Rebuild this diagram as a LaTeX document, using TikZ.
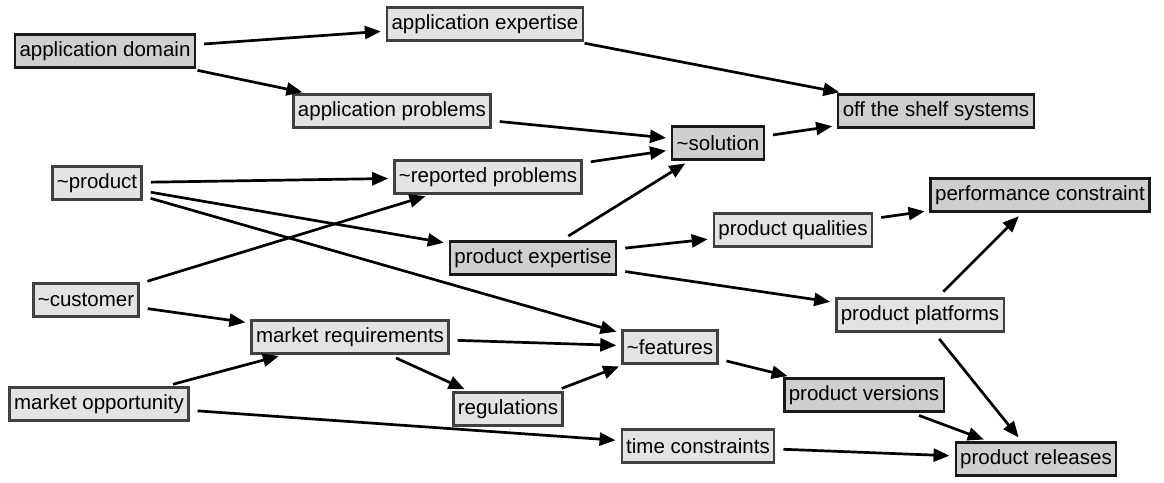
\documentclass[tikz,border=0pt]{standalone}
\usepackage{fontspec}
\setmainfont{Liberation Sans}
\usetikzlibrary{arrows.meta}
\begin{document}
\begin{tikzpicture}[x=1pt,y=-1pt,
  box/.style={draw=black!75, line width=2.4pt, fill=gray!22, inner xsep=4.5pt, inner ysep=0pt,
     minimum height=33pt, font=\fontsize{20.5}{20.5}\selectfont},
  boxd/.style={box, draw=black!90, fill=gray!38},
  conn/.style={line width=2.7pt, -{Triangle[length=16pt,width=13pt]}, shorten <=8pt, shorten >=5pt}]
\useasboundingbox (0,0) rectangle (1164,482);
\fill[white] (0,0) rectangle (1164,482);
\node[boxd] (appdom) at (105,51) {application domain};
\node[box] (appexp) at (485,24) {application expertise};
\node[box] (appprob) at (392,111) {application problems};
\node[boxd] (offshelf) at (936,111) {off the shelf systems};
\node[boxd] (solution) at (718,143) {\textasciitilde solution};
\node[box] (product) at (97,183) {\textasciitilde product};
\node[box] (repprob) at (488,177) {\textasciitilde reported problems};
\node[boxd] (perf) at (1040,195) {performance constraint};
\node[box] (qual) at (793,230) {product qualities};
\node[boxd] (pexp) at (533,258) {product expertise};
\node[box] (customer) at (86,300) {\textasciitilde customer};
\node[box] (platforms) at (920,315) {product platforms};
\node[box] (marketreq) at (350,337) {market requirements};
\node[box] (features) at (670,347) {\textasciitilde features};
\node[box] (regulations) at (508,409) {regulations};
\node[box] (marketopp) at (99,404) {market opportunity};
\node[boxd] (versions) at (864,395) {product versions};
\node[box] (timec) at (698,446) {time constraints};
\node[boxd] (releases) at (1036,459) {product releases};

\draw[conn] (appdom) -- (appexp);
\draw[conn] (appdom) -- (appprob);
\draw[conn] (appexp) -- (offshelf);
\draw[conn] (appprob) -- (solution);
\draw[conn] (repprob) -- (solution);
\draw[conn] (solution) -- (offshelf);
\draw[conn] (pexp) -- (solution);
\draw[conn] (product) -- (repprob);
\draw[conn] (product) -- (pexp);
\draw[conn] (product) -- (features);
\draw[conn] (customer) -- (repprob);
\draw[conn] (customer) -- (marketreq);
\draw[conn] (pexp) -- (qual);
\draw[conn] (pexp) -- (platforms);
\draw[conn] (qual) -- (perf);
\draw[conn] (platforms) -- (perf);
\draw[conn] (platforms) -- (releases);
\draw[conn] (marketreq) -- (features);
\draw[conn] (marketreq) -- (regulations);
\draw[conn] (regulations) -- (features);
\draw[conn] (marketopp) -- (marketreq);
\draw[conn] (marketopp) -- (timec);
\draw[conn] (features) -- (versions);
\draw[conn] (versions) -- (releases);
\draw[conn] (timec) -- (releases);
\end{tikzpicture}
\end{document}
